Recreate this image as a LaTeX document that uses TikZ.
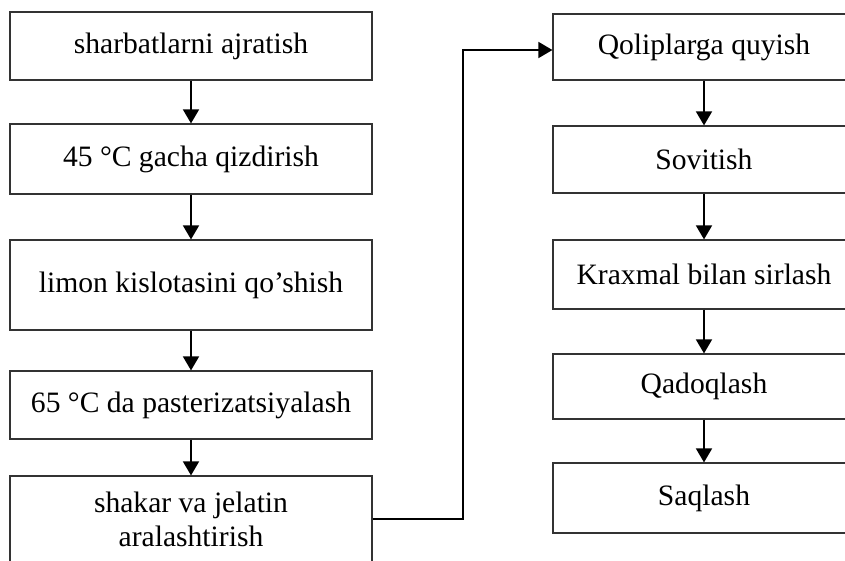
\documentclass[tikz,border=0pt]{standalone}
\usepackage{fontspec}
\setmainfont{Liberation Serif}
\usetikzlibrary{arrows.meta}

\begin{document}
\begin{tikzpicture}[x=1pt, y=-1pt,
        procbox/.style={draw=black!80, line width=1.2pt, inner sep=0pt, align=center,
            minimum width=362pt, font=\fontsize{29.6}{34}\selectfont},
        rightbox/.style={procbox, minimum width=302pt},
        flowarrow/.style={line width=1.7pt, -{Triangle[width=16pt,length=14pt]}}]
        \useasboundingbox (0,0) rectangle (845,560);
        \clip (0,0) rectangle (845,560);

        % left column
        \node[procbox, minimum height=68pt] (sharbat) at (191,46) {sharbatlarni ajratish};
        \node[procbox, minimum height=70pt] (qizdir) at (191,159) {45 °C gacha qizdirish};
        \node[procbox, minimum height=90pt] (limon) at (191,285) {limon kislotasini qo’shish};
        \node[procbox, minimum height=68pt] (paster) at (191,405) {65 °C da pasterizatsiyalash};
        \node[procbox, minimum height=86pt] (shakar) at (191,519) {shakar va jelatin\\aralashtirish};

        % right column
        \node[rightbox, minimum height=66pt] (qolip) at (704,47) {Qoliplarga quyish};
        \node[rightbox, minimum height=67pt] (sovit) at (704,159.5) {Sovitish};
        \node[rightbox, minimum height=69pt] (kraxmal) at (704,274.5) {Kraxmal bilan sirlash};
        \node[rightbox, minimum height=65pt] (qadoq) at (704,386.5) {Qadoqlash};
        \node[rightbox, minimum height=70pt] (saqla) at (704,498) {Saqlash};

        % arrows
        \draw[flowarrow] (sharbat) -- (qizdir);
        \draw[flowarrow] (qizdir) -- (limon);
        \draw[flowarrow] (limon) -- (paster);
        \draw[flowarrow] (paster) -- (shakar);
        \draw[flowarrow] (qolip) -- (sovit);
        \draw[flowarrow] (sovit) -- (kraxmal);
        \draw[flowarrow] (kraxmal) -- (qadoq);
        \draw[flowarrow] (qadoq) -- (saqla);

        % link between the columns
        \coordinate (turn) at (463,0);
        \coordinate (qin) at ([yshift=-3pt]qolip.west);
        \draw[flowarrow] (shakar.east) -| (turn |- qin) -- (qin);
\end{tikzpicture}
\end{document}
